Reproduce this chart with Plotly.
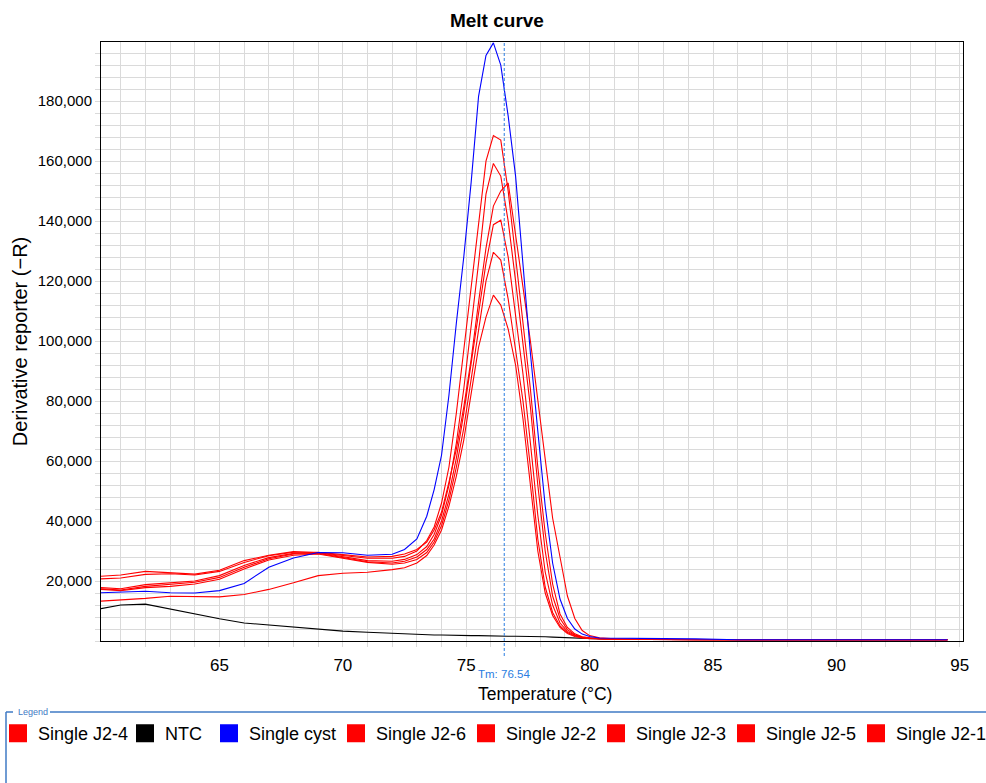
import plotly.graph_objects as go

# ---------------- data ----------------
temperature_c = [60.2, 61.0, 62.0, 63.0, 64.0, 65.0, 66.0, 67.0, 68.0, 69.0, 70.0, 71.0,
                 72.0, 72.5, 73.0, 73.4, 73.7, 74.0, 74.3, 74.6, 74.9, 75.2, 75.5, 75.8,
                 76.1, 76.4, 76.7, 77.0, 77.3, 77.6, 77.9, 78.2, 78.5, 78.8, 79.1, 79.4,
                 79.7, 80.0, 80.4, 81.0, 82.0, 83.0, 84.3, 86.0, 90.0, 94.5]

ntc = [10800, 12000, 12300, 10700, 8900, 7400, 6000, 5300, 4500, 3800, 3300, 2900,
       2500, 2300, 2200, 2100, 2000, 2000, 1900, 1900, 1800, 1800, 1800, 1700,
       1700, 1700, 1600, 1600, 1600, 1500, 1500, 1400, 1300, 1200, 1000, 900,
       800, 700, 600, 500, 500, 500, 400, 400, 400, 400]

single_cyst = [16100, 16400, 16600, 16100, 16000, 16800, 19200, 24600, 27700, 29500, 29400, 28600,
               28900, 30500, 34000, 41600, 50500, 62000, 82000, 106000, 128000, 153000, 181600, 195200,
               199400, 192000, 175000, 155000, 124000, 96000, 70000, 45000, 26000, 14000, 7500, 4000,
               2300, 1500, 1000, 900, 800, 800, 700, 400, 400, 400]

single_j2_4 = [21600, 22000, 23200, 22800, 22300, 23600, 26800, 28600, 29800, 29400, 28400, 27600,
               27600, 28200, 30000, 33500, 38000, 46000, 58000, 76000, 97000, 118000, 140000, 160000,
               168500, 167000, 150000, 128000, 106000, 84000, 58000, 36000, 19000, 9000, 4500, 2400,
               1400, 1000, 800, 600, 500, 500, 400, 400, 400, 400]

single_j2_6 = [20700, 21000, 22200, 22400, 22000, 23200, 26200, 28400, 29600, 29600, 28800, 28000,
               28200, 29000, 30500, 33000, 37000, 43000, 53000, 64000, 78000, 94000, 113000, 131000,
               145000, 150000, 152700, 136000, 118000, 100000, 80000, 60000, 41000, 28000, 15000, 7500,
               3500, 1800, 1100, 700, 500, 500, 400, 400, 400, 400]

single_j2_2 = [17800, 17400, 18800, 19400, 20000, 21800, 25200, 27800, 29200, 29400, 28200, 26800,
               26600, 27200, 28800, 31500, 35500, 42000, 52000, 66000, 84000, 104000, 126000, 149000,
               159200, 155000, 140000, 120000, 99000, 78000, 52000, 30000, 15000, 7500, 3800, 2100,
               1300, 1000, 800, 600, 500, 500, 400, 400, 400, 400]

single_j2_3 = [17400, 17000, 18200, 18800, 19600, 21200, 24600, 27400, 29000, 29200, 27800, 26400,
               26000, 26600, 28000, 30500, 34000, 40000, 49000, 61000, 76000, 93000, 110000, 126000,
               138800, 140300, 128000, 108000, 89000, 66000, 42000, 23000, 12000, 6000, 3200, 1900,
               1200, 900, 700, 600, 500, 500, 400, 400, 400, 400]

single_j2_5 = [17200, 16800, 17800, 18200, 19000, 20600, 24000, 27000, 28600, 29000, 27600, 26200,
               25600, 26000, 27200, 29500, 33000, 38500, 47000, 58000, 71000, 87000, 104000, 120000,
               129600, 127000, 114000, 97000, 80000, 58000, 34000, 18000, 9500, 5000, 2800, 1700,
               1100, 900, 700, 600, 500, 500, 400, 400, 400, 400]

single_j2_1 = [13300, 13600, 14200, 14900, 14700, 14700, 15500, 17200, 19400, 21800, 22600, 22900,
               23800, 24400, 26000, 28500, 32000, 37000, 45000, 55000, 67000, 82000, 98000, 108000,
               115300, 112000, 104000, 92000, 74000, 52000, 30000, 16000, 8500, 4500, 2500, 1500,
               1000, 800, 700, 600, 500, 500, 400, 400, 400, 400]

legend_names = ["Single J2-4", "NTC", "Single cyst", "Single J2-6",
                "Single J2-2", "Single J2-3", "Single J2-5", "Single J2-1"]
legend_colors = ["#ff0000", "#000000", "#0000ff", "#ff0000",
                 "#ff0000", "#ff0000", "#ff0000", "#ff0000"]

x_tick_vals = [65, 70, 75, 80, 85, 90, 95]
y_tick_vals = [20000, 40000, 60000, 80000, 100000, 120000, 140000, 160000, 180000]
tm_value = 76.54

# ---------------- figure ----------------
series = {
    "Single J2-4": single_j2_4,
    "NTC": ntc,
    "Single cyst": single_cyst,
    "Single J2-6": single_j2_6,
    "Single J2-2": single_j2_2,
    "Single J2-3": single_j2_3,
    "Single J2-5": single_j2_5,
    "Single J2-1": single_j2_1,
}
color_of = dict(zip(legend_names, legend_colors))
draw_order = ["NTC", "Single J2-4", "Single J2-6", "Single J2-2", "Single J2-3",
              "Single J2-5", "Single J2-1", "Single cyst"]

fig = go.Figure()
for name in draw_order:
    fig.add_trace(go.Scatter(
        x=temperature_c, y=series[name], mode="lines", name=name,
        legendgroup=name, showlegend=False,
        line=dict(color=color_of[name], width=1.1),
    ))

legend_widths = {"Single J2-4": 82, "NTC": 39, "Single cyst": 82}
for name in legend_names:
    c = color_of[name]
    fig.add_trace(go.Scatter(
        x=[None], y=[None], mode="markers", name=name, legendgroup=name,
        marker=dict(symbol="square", size=16, color=c, line=dict(color=c, width=2)),
        legendwidth=legend_widths.get(name, 85),
        legend="legend2" if name == legend_names[-1] else "legend",
    ))

grid = "#dadada"
L, R, T, B = 101, 23, 42, 142
W, H = 986, 783
pw, ph = W - L - R, H - T - B


def px_x(px):
    return (px - L) / pw


def px_y(py):
    return (H - B - py) / ph


legend_style = dict(orientation="h", xref="paper", yref="paper", y=px_y(715),
                    xanchor="left", yanchor="top", font=dict(size=18), itemwidth=30,
                    bgcolor="rgba(0,0,0,0)")

fig.update_layout(
    width=W, height=H,
    margin=dict(l=L, r=R, t=T, b=B, autoexpand=False),
    paper_bgcolor="white", plot_bgcolor="white",
    font=dict(family="Arial, 'Liberation Sans', sans-serif", color="black"),
    title=dict(text="<b>Melt curve</b>", x=0.504, xref="container", xanchor="center",
               y=1 - 20 / H, yref="container", yanchor="middle", font=dict(size=19)),
    showlegend=True,
    legend=dict(x=px_x(-2), **legend_style),
    legend2=dict(x=px_x(856), **legend_style),
    xaxis=dict(
        range=[60.2, 95.13], tickvals=x_tick_vals, ticks="outside", ticklen=5,
        tickcolor=grid, showgrid=True, gridcolor=grid, gridwidth=1,
        showline=True, linecolor="black", linewidth=1, mirror=True, zeroline=False,
        tickfont=dict(size=17), ticklabelstandoff=4,
        minor=dict(tick0=0, dtick=1, showgrid=True, gridcolor=grid, ticks="outside",
                   ticklen=5, tickcolor=grid),
    ),
    yaxis=dict(
        range=[0, 199700], tickvals=y_tick_vals, tickformat=",d", ticks="outside",
        ticklen=5, tickcolor=grid, showgrid=True, gridcolor=grid, gridwidth=1,
        showline=True, linecolor="black", linewidth=1, mirror=True, zeroline=False,
        tickfont=dict(size=15),
        minor=dict(tick0=0, dtick=4000, showgrid=True, gridcolor=grid, ticks="outside",
                   ticklen=5, tickcolor=grid),
        title=dict(text="Derivative reporter (\u2212R)", font=dict(size=20), standoff=4),
    ),
)

# X-axis title (placed as in the reference, slightly right of centre)
fig.add_annotation(text="Temperature (°C)", xref="paper", yref="paper",
                   x=px_x(545), y=px_y(694), xanchor="center", yanchor="middle",
                   showarrow=False, font=dict(size=17.5), borderpad=0)

# Tm marker line and label
tm_color = "#2a7de1"
fig.add_shape(type="line", xref="x", yref="paper", x0=tm_value, x1=tm_value,
              y0=px_y(656), y1=1, line=dict(color=tm_color, width=1, dash="3px,2px"))
fig.add_annotation(text=f"Tm: {tm_value:.2f}", xref="x", yref="paper", x=tm_value, y=0,
                   yanchor="top", xanchor="center", yshift=-26, showarrow=False,
                   borderpad=0, font=dict(size=11.5, color=tm_color))

# Legend frame
frame_color = "#3f7ac4"
fig.add_shape(type="line", xref="paper", yref="paper", x0=px_x(50), x1=px_x(986),
              y0=px_y(712), y1=px_y(712), line=dict(color=frame_color, width=1.5))
fig.add_shape(type="line", xref="paper", yref="paper", x0=px_x(6), x1=px_x(13),
              y0=px_y(712), y1=px_y(712), line=dict(color=frame_color, width=1.5))
fig.add_shape(type="line", xref="paper", yref="paper", x0=px_x(6), x1=px_x(6),
              y0=px_y(712), y1=px_y(790), line=dict(color=frame_color, width=1.5))
fig.add_annotation(text="Legend", xref="paper", yref="paper", x=px_x(16), y=px_y(712),
                   xanchor="left", yanchor="middle", showarrow=False,
                   font=dict(size=9, color=frame_color))

fig.write_html("out.html", config={"displayModeBar": False},
               post_script="document.body.style.margin='0';")
